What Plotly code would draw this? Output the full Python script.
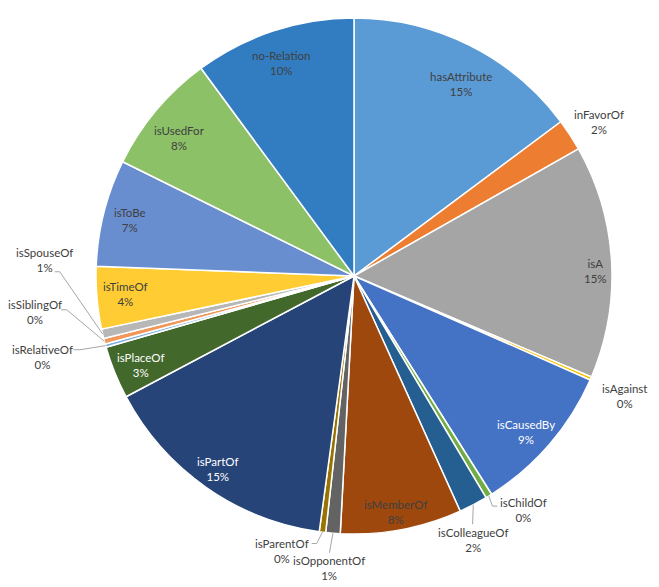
import math
import plotly.graph_objects as go

# ---------------- data ----------------
categories = ["hasAttribute", "inFavorOf", "isA", "isAgainst", "isCausedBy", "isChildOf",
              "isColleagueOf", "isMemberOf", "isOpponentOf", "isParentOf", "isPartOf",
              "isPlaceOf", "isRelativeOf", "isSiblingOf", "isSpouseOf", "isTimeOf",
              "isToBe", "isUsedFor", "no-Relation"]
values = [14.8, 2.0, 14.6, 0.2, 9.45, 0.4,
          1.8, 7.6, 0.9, 0.4, 15.1,
          3.3, 0.2, 0.35, 0.6, 3.9,
          6.7, 7.6, 10.1]

# ---------------- style ----------------
colors = ["#5B9BD5", "#ED7D31", "#A5A5A5", "#FFC000", "#4472C4", "#70AD47",
          "#255E91", "#9E480E", "#636363", "#997300", "#264478",
          "#43682B", "#7CAFDD", "#F1975A", "#B7B7B7", "#FFCD33",
          "#698ED0", "#8CC168", "#327DC2"]
white_text = {"isCausedBy", "isPartOf", "isPlaceOf"}

W, H = 659, 587
CX, CY, R = 354, 276, 258

# label placement: (angle clockwise from 12 o'clock in degrees, radius fraction)
label_place = {
    "hasAttribute": (29.1, 0.853), "inFavorOf": (57.8, 1.12), "isA": (88.8, 0.938),
    "isAgainst": (114.0, 1.147), "isCausedBy": (132.2, 0.899), "isChildOf": (144.1, 1.118),
    "isColleagueOf": (155.6, 1.122), "isMemberOf": (169.9, 0.929), "isOpponentOf": (184.8, 1.136),
    "isParentOf": (194.6, 1.10), "isPartOf": (215.2, 0.914), "isPlaceOf": (247.4, 0.897),
    "isRelativeOf": (255.5, 1.247), "isSiblingOf": (263.6, 1.244), "isSpouseOf": (273.0, 1.203),
    "isTimeOf": (265.6, 0.89), "isToBe": (284.1, 0.895), "isUsedFor": (308.5, 0.862),
    "no-Relation": (341.3, 0.872),
}
# leader line points as pixel offsets from label centre (elbow, end)
leaders = {
    "isChildOf": [(-30.7, -3.5), (-25.7, -3.5)],
    "isColleagueOf": [(-1, -15.4)],
    "isOpponentOf": [(0, -15.3)],
    "isParentOf": [(34.2, -7.1), (29.2, -7.1)],
    "isRelativeOf": [(37.5, -6.8), (30.8, -6.8)],
    "isSiblingOf": [(31.7, -2), (26, -2)],
    "isSpouseOf": [(15.7, 12), (10.7, 12)],
}


def polar_px(theta_deg, frac):
    t = math.radians(theta_deg)
    return CX + frac * R * math.sin(t), CY - frac * R * math.cos(t)


def to_paper(x, y):
    return x / W, 1 - y / H


fig = go.Figure(go.Pie(
    labels=categories, values=values, sort=False, direction="clockwise", rotation=0,
    marker=dict(colors=colors, line=dict(color="white", width=1.5)),
    textinfo="none", hoverinfo="label+percent", showlegend=False,
    domain=dict(x=[(CX - R) / W, (CX + R) / W], y=[1 - (CY + R) / H, 1 - (CY - R) / H]),
))

total = sum(values)
annotations = []
shapes = []
cum = 0.0
for cat, v in zip(categories, values):
    a0 = cum / total * 360
    cum += v
    a1 = cum / total * 360
    mid = (a0 + a1) / 2
    th, fr = label_place[cat]
    lx, ly = polar_px(th, fr)
    px, py = to_paper(lx, ly)
    pct = f"{v / total * 100:.0f}%"
    annotations.append(dict(
        x=px, y=py, xref="paper", yref="paper", xanchor="center", yanchor="middle",
        text=f"{cat}<br>{pct}", showarrow=False, align="center",
        font=dict(family="Lato, Calibri, sans-serif", size=11.5,
                  color="white" if cat in white_text else "#404040"),
    ))
    if cat in leaders:
        sx, sy = polar_px(mid, 1.0)
        pts = [to_paper(sx, sy)] + [to_paper(lx + dx, ly + dy) for dx, dy in leaders[cat]]
        path = "M " + " L ".join(f"{p[0]:.5f},{p[1]:.5f}" for p in pts)
        shapes.append(dict(type="path", path=path, xref="paper", yref="paper",
                           line=dict(color="#A6A6A6", width=1)))

fig.update_layout(
    width=W, height=H, margin=dict(l=0, r=0, t=0, b=0),
    paper_bgcolor="white", plot_bgcolor="white",
    annotations=annotations, shapes=shapes,
)
fig.write_html("out.html")
